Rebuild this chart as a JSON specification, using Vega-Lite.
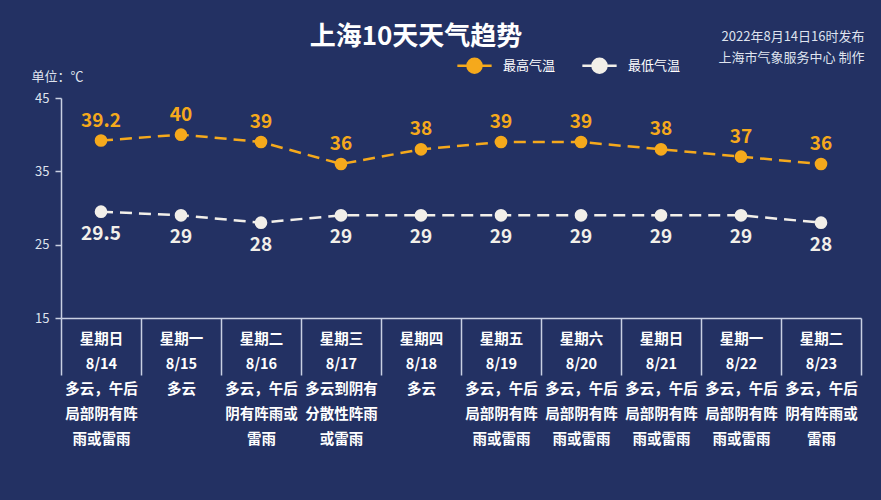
{
  "$schema": "https://vega.github.io/schema/vega-lite/v6.json",
  "width": 800,
  "height": 220,
  "autosize": {"type": "none"},
  "padding": {"left": 61, "top": 98, "right": 20, "bottom": 182},
  "background": "#233163",
  "config": {
    "view": {"stroke": null},
    "font": "Noto Sans CJK SC"
  },
  "title": {
    "text": "上海10天天气趋势",
    "frame": "group",
    "anchor": "middle",
    "dx": -45,
    "offset": -20,
    "fontSize": 26,
    "fontWeight": "bold",
    "color": "#ffffff"
  },
  "data": {
    "values": [
      {"label": "星期日|8/14|多云，午后|局部阴有阵|雨或雷雨", "最高气温": 39.2, "最低气温": 29.5},
      {"label": "星期一|8/15|多云", "最高气温": 40, "最低气温": 29},
      {"label": "星期二|8/16|多云，午后|阴有阵雨或|雷雨", "最高气温": 39, "最低气温": 28},
      {"label": "星期三|8/17|多云到阴有|分散性阵雨|或雷雨", "最高气温": 36, "最低气温": 29},
      {"label": "星期四|8/18|多云", "最高气温": 38, "最低气温": 29},
      {"label": "星期五|8/19|多云，午后|局部阴有阵|雨或雷雨", "最高气温": 39, "最低气温": 29},
      {"label": "星期六|8/20|多云，午后|局部阴有阵|雨或雷雨", "最高气温": 39, "最低气温": 29},
      {"label": "星期日|8/21|多云，午后|局部阴有阵|雨或雷雨", "最高气温": 38, "最低气温": 29},
      {"label": "星期一|8/22|多云，午后|局部阴有阵|雨或雷雨", "最高气温": 37, "最低气温": 29},
      {"label": "星期二|8/23|多云，午后|阴有阵雨或|雷雨", "最高气温": 36, "最低气温": 28}
    ]
  },
  "transform": [
    {"fold": ["最高气温", "最低气温"], "as": ["type", "temp"]}
  ],
  "encoding": {
    "x": {
      "field": "label",
      "type": "nominal",
      "sort": null,
      "scale": {"paddingInner": 0, "paddingOuter": 0},
      "axis": {
        "title": ["2022年8月14日16时发布", "上海市气象服务中心 制作"],
        "titleX": 803,
        "titleY": -288,
        "titleAlign": "right",
        "titleAnchor": null,
        "titleBaseline": "top",
        "titleFontSize": 13,
        "titleFontWeight": "normal",
        "titleColor": "#dfe3ee",
        "titleLineHeight": 21,
        "labelExpr": "isValid(datum.value) ? split(datum.value, '|') : ''",
        "labelAngle": 0,
        "labelColor": "#ffffff",
        "labelFontSize": 14.5,
        "labelFontWeight": "bold",
        "labelLineHeight": 25,
        "labelBaseline": "top",
        "labelPadding": -43,
        "labelOverlap": false,
        "labelBound": false,
        "labelFlush": false,
        "tickBand": "extent",
        "tickSize": 57,
        "tickColor": "#c9d0e2",
        "tickWidth": 1.5,
        "domainColor": "#c9d0e2",
        "domainWidth": 1.5
      }
    },
    "y": {
      "field": "temp",
      "type": "quantitative",
      "scale": {"domain": [15, 45], "zero": false, "nice": false},
      "axis": {
        "values": [15, 25, 35, 45],
        "grid": false,
        "title": "单位：℃",
        "titleAngle": 0,
        "titleX": -30,
        "titleY": -22,
        "titleAlign": "left",
        "titleBaseline": "middle",
        "titleFontSize": 13,
        "titleFontWeight": "normal",
        "titleColor": "#dfe3ee",
        "labelColor": "#dfe3ee",
        "labelFontSize": 13,
        "labelPadding": 6,
        "tickSize": 6,
        "tickColor": "#c9d0e2",
        "tickWidth": 1.5,
        "domainColor": "#c9d0e2",
        "domainWidth": 1.5
      }
    },
    "color": {
      "field": "type",
      "type": "nominal",
      "sort": null,
      "scale": {"domain": ["最高气温", "最低气温"], "range": ["#f5a91c", "#f2efe9"]},
      "legend": {
        "title": null,
        "orient": "none",
        "direction": "horizontal",
        "legendX": 404,
        "legendY": -42,
        "symbolType": "M-2.2,0H-0.9M0.9,0H2.2M-0.9,0A0.9,0.9,0,1,1,0.9,0A0.9,0.9,0,1,1,-0.9,0Z",
        "symbolSize": 243,
        "symbolStrokeWidth": 2.5,
        "labelOffset": 19,
        "columnPadding": 21,
        "labelColor": "#ffffff",
        "labelFontSize": 13,
        "encode": {
          "symbols": {
            "update": {
              "fill": {"scale": "color", "field": "value"},
              "stroke": {"scale": "color", "field": "value"},
              "opacity": {"value": 1}
            }
          }
        }
      }
    }
  },
  "layer": [
    {
      "mark": {"type": "line", "strokeWidth": 2.5, "strokeDash": [12, 7]}
    },
    {
      "mark": {"type": "point", "filled": true, "size": 160, "opacity": 1}
    },
    {
      "transform": [{"filter": "datum.type === '最高气温'"}],
      "mark": {"type": "text", "dy": -20, "fontSize": 19, "fontWeight": "bold"},
      "encoding": {
        "text": {"field": "temp", "type": "quantitative", "format": ".1~f"}
      }
    },
    {
      "transform": [{"filter": "datum.type === '最低气温'"}],
      "mark": {"type": "text", "dy": 22, "fontSize": 19, "fontWeight": "bold"},
      "encoding": {
        "text": {"field": "temp", "type": "quantitative", "format": ".1~f"}
      }
    }
  ]
}
